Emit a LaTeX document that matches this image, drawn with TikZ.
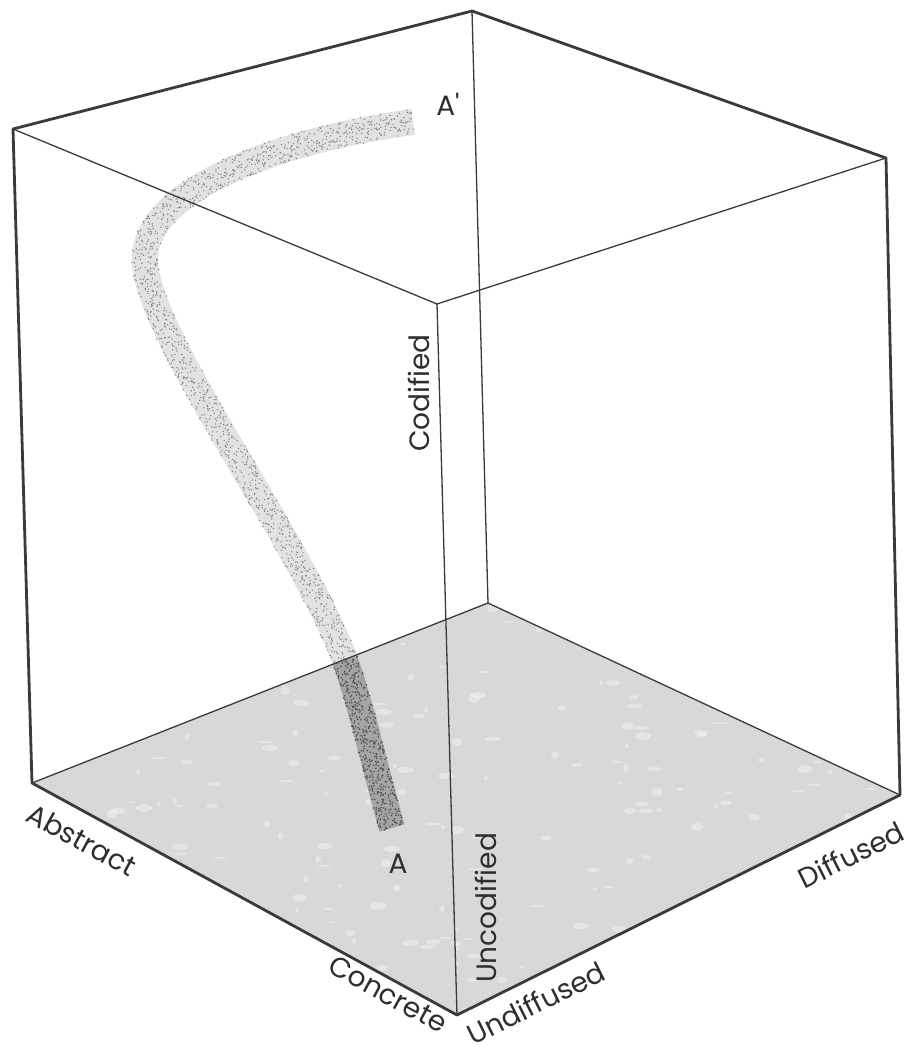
\documentclass[tikz,border=0pt]{standalone}
\usepackage{fontspec}
\setmainfont{Poppins}
\usetikzlibrary{decorations.markings}
\definecolor{edge}{HTML}{3A3A3A}
\definecolor{floorc}{HTML}{D8D8D8}
\definecolor{txt}{HTML}{2E2E2E}
\definecolor{bandlight}{HTML}{E2E2E2}
\definecolor{banddark}{HTML}{A4A4A4}
\definecolor{dotlight}{HTML}{7E7E7E}
\definecolor{dotdark}{HTML}{4E4E4E}
\begin{document}
\begin{tikzpicture}[x=1pt,y=-1pt,
  outer/.style={draw=edge, line width=2.8pt, line join=round, line cap=round},
  inner/.style={draw=edge, line width=1.3pt, line cap=round},
  lab/.style={text=txt, font=\fontsize{28}{28}\selectfont, inner sep=0pt},
  stipple/.style n args={3}{postaction={decorate}, decoration={markings,
     mark=between positions 0 and 1 step #3 with {\fill[#1] ({rand*0.4pt},{rand*13pt}) circle (#2);}}},
  ]
\pgfmathsetseed{7}
\useasboundingbox (0,0) rectangle (909,1055);
\fill[white] (0,0) rectangle (909,1055);
% vertices
\coordinate (TB) at (472,11);
\coordinate (TL) at (13,129);
\coordinate (TR) at (886,158);
\coordinate (TF) at (437,304);
\coordinate (BB) at (488,603);
\coordinate (BL) at (32,783);
\coordinate (BR) at (900,795);
\coordinate (BF) at (457,1015);
% curve points
\coordinate (C0) at (413,122);
\coordinate (C1) at (145,263);
\coordinate (C2) at (345,660);
\coordinate (C3) at (392,828);
% floor with light mottling
\fill[floorc] (BL) -- (BB) -- (BR) -- (BF) -- cycle;
\begin{scope}
  \clip (BL) -- (BB) -- (BR) -- (BF) -- cycle;
  \foreach \i in {1,...,260}{
    \pgfmathsetmacro{\mx}{40+random(0,860)}
    \pgfmathsetmacro{\my}{600+random(0,420)}
    \pgfmathsetmacro{\ra}{2+random(0,6)}
    \pgfmathsetmacro{\rb}{1+random(0,3)}
    \fill[white, opacity=0.35] (\mx,\my) ellipse ({\ra pt} and {\rb pt});
  }
\end{scope}
% band: upper light part
\draw[bandlight, line width=26pt]
  (C0) .. controls (280,140) and (140,190) .. (C1)
       .. controls (150,340) and (300,540) .. (C2);
\path[stipple={dotlight}{0.75pt}{0.55pt}]
  (C0) .. controls (280,140) and (140,190) .. (C1)
       .. controls (150,340) and (300,540) .. (C2);
% band: lower dark part
\draw[banddark, line width=26pt]
  (C2) .. controls (362,708) and (378,780) .. (C3);
\path[stipple={dotdark}{0.85pt}{0.35pt}]
  (C2) .. controls (362,708) and (378,780) .. (C3);
% hidden / inner edges
\draw[inner] (TB) -- (BB);
\draw[inner] (BB) -- (BL);
\draw[inner] (BB) -- (BR);
\draw[inner] (TF) -- (TL);
\draw[inner] (TF) -- (TR);
\draw[inner] (TF) -- (BF);
% outer outline
\draw[outer] (TL) -- (TB) -- (TR) -- (BR) -- (BF) -- (BL) -- cycle;
% labels
\node[lab] (Ap) at (448,104) {A\textquotesingle};
\node[lab] (A) at (398,864) {A};
\node[lab, rotate=90] (cod) at (419,393) {Codified};
\node[lab, rotate=90] (uncod) at (486,908) {Uncodified};
\node[lab, rotate=-28.6] (abs) at (82,840) {Abstract};
\node[lab, rotate=-28.6] (con) at (388,994) {Concrete};
\node[lab, rotate=26.4] (undiff) at (536,1003) {Undiffused};
\node[lab, rotate=26.4] (diff) at (851,855) {Diffused};
\end{tikzpicture}
\end{document}
